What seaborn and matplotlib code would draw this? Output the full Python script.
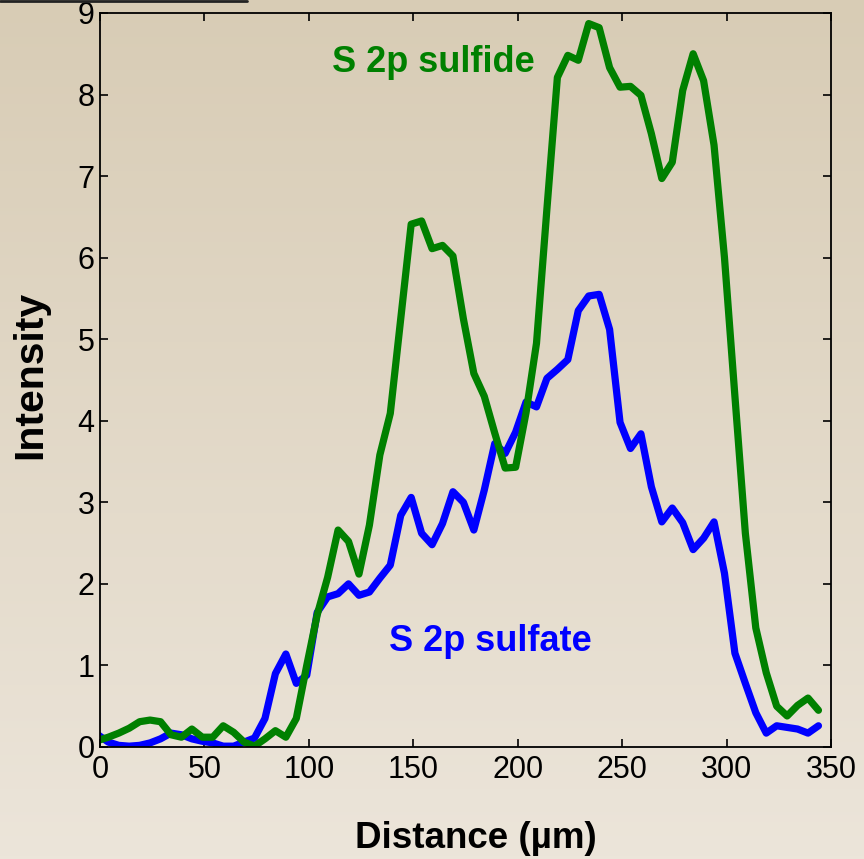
import numpy as np
import pandas as pd
import matplotlib
matplotlib.use("Agg")
import matplotlib.pyplot as plt
from matplotlib.lines import Line2D
import seaborn as sns

# Profil liniowy S 2p (siarczek / siarczan)
distance = np.arange(-1, 345, 5)

sulfide = [0.08, 0.12, 0.17, 0.23, 0.31, 0.33, 0.31, 0.15, 0.12, 0.22,
           0.12, 0.12, 0.26, 0.18, 0.06, 0.01, 0.10, 0.20, 0.12, 0.35,
           1.00, 1.62, 2.08, 2.66, 2.52, 2.12, 2.72, 3.58, 4.09, 5.25,
           6.41, 6.45, 6.11, 6.15, 6.02, 5.25, 4.58, 4.30, 3.85, 3.42,
           3.43, 4.10, 4.95, 6.60, 8.21, 8.48, 8.42, 8.87, 8.82, 8.33,
           8.09, 8.10, 7.99, 7.52, 6.97, 7.17, 8.05, 8.50, 8.17, 7.38,
           6.00, 4.30, 2.62, 1.46, 0.91, 0.50, 0.38, 0.51, 0.60, 0.45]

sulfate = [0.15, 0.06, 0.02, 0.01, 0.02, 0.05, 0.10, 0.17, 0.15, 0.10,
           0.07, 0.05, 0.01, 0.01, 0.06, 0.11, 0.35, 0.90, 1.14, 0.78,
           0.88, 1.65, 1.84, 1.88, 2.00, 1.86, 1.90, 2.07, 2.23, 2.84,
           3.06, 2.62, 2.48, 2.74, 3.13, 3.00, 2.66, 3.15, 3.72, 3.60,
           3.86, 4.23, 4.17, 4.52, 4.63, 4.75, 5.35, 5.53, 5.55, 5.12,
           3.98, 3.66, 3.84, 3.19, 2.76, 2.93, 2.75, 2.42, 2.56, 2.76,
           2.13, 1.15, 0.78, 0.42, 0.17, 0.26, 0.24, 0.22, 0.17, 0.26]

x_ticks = [0, 50, 100, 150, 200, 250, 300, 350]
y_ticks = [0, 1, 2, 3, 4, 5, 6, 7, 8, 9]

df = pd.DataFrame({"distance": distance, "sulfide": sulfide, "sulfate": sulfate})

sns.set_style("ticks")
plt.rcParams["font.family"] = ["Liberation Sans", "DejaVu Sans"]
plt.rcParams["text.color"] = "black"
plt.rcParams["axes.labelcolor"] = "black"

fig = plt.figure(figsize=(8.64, 8.59), dpi=100)

# tlo z gradientem
ax_bg = fig.add_axes([0, 0, 1, 1], zorder=-10)
top_col = np.array([216, 204, 181]) / 255
bot_col = np.array([236, 229, 218]) / 255
t = np.linspace(0, 1, 256)[:, None]
grad = top_col[None, :] * (1 - t) + bot_col[None, :] * t
ax_bg.imshow(grad[:, None, :].repeat(2, axis=1), aspect="auto", extent=[0, 1, 0, 1])
ax_bg.axis("off")

ax = fig.add_axes([0.1157, 0.1304, 0.8461, 0.8545])
ax.set_facecolor("none")

sns.lineplot(data=df, x="distance", y="sulfate", ax=ax, color="#0000ff", lw=5.2)
sns.lineplot(data=df, x="distance", y="sulfide", ax=ax, color="#008000", lw=5.2)

ax.set_xlim(0, 350)
ax.set_ylim(0, 9)
ax.set_xticks(x_ticks)
ax.set_yticks(y_ticks)
ax.tick_params(direction="in", length=6, width=1.2, top=True, right=True,
               labelsize=22, colors="black")
ax.tick_params(axis="x", pad=6)
ax.tick_params(axis="y", pad=4)
for s in ax.spines.values():
    s.set_visible(True)
    s.set_linewidth(1.3)
    s.set_color("black")

ax.set_xlabel("Distance (µm)", fontsize=26.5, fontweight="bold", color="black")
ax.set_ylabel("Intensity", fontsize=29.5, fontweight="bold", color="black")
ax.xaxis.set_label_coords(0.514, -0.124)
ax.xaxis.label.set_va("center")
ax.yaxis.set_label_coords(-0.096, 0.507)
ax.yaxis.label.set_va("center")

ax.text(159.5, 8.39, "S 2p sulfide", color="#008000", fontsize=26,
        fontweight="bold", ha="center", va="center")
ax.text(186.8, 1.29, "S 2p sulfate", color="#0000ff", fontsize=26,
        fontweight="bold", ha="center", va="center")

# resztka paska tytulu u gory
fig.add_artist(Line2D([0, 0.286], [0.999, 0.999], color="#222222", lw=2,
                      transform=fig.transFigure))

fig.savefig("out.png", dpi=100)
